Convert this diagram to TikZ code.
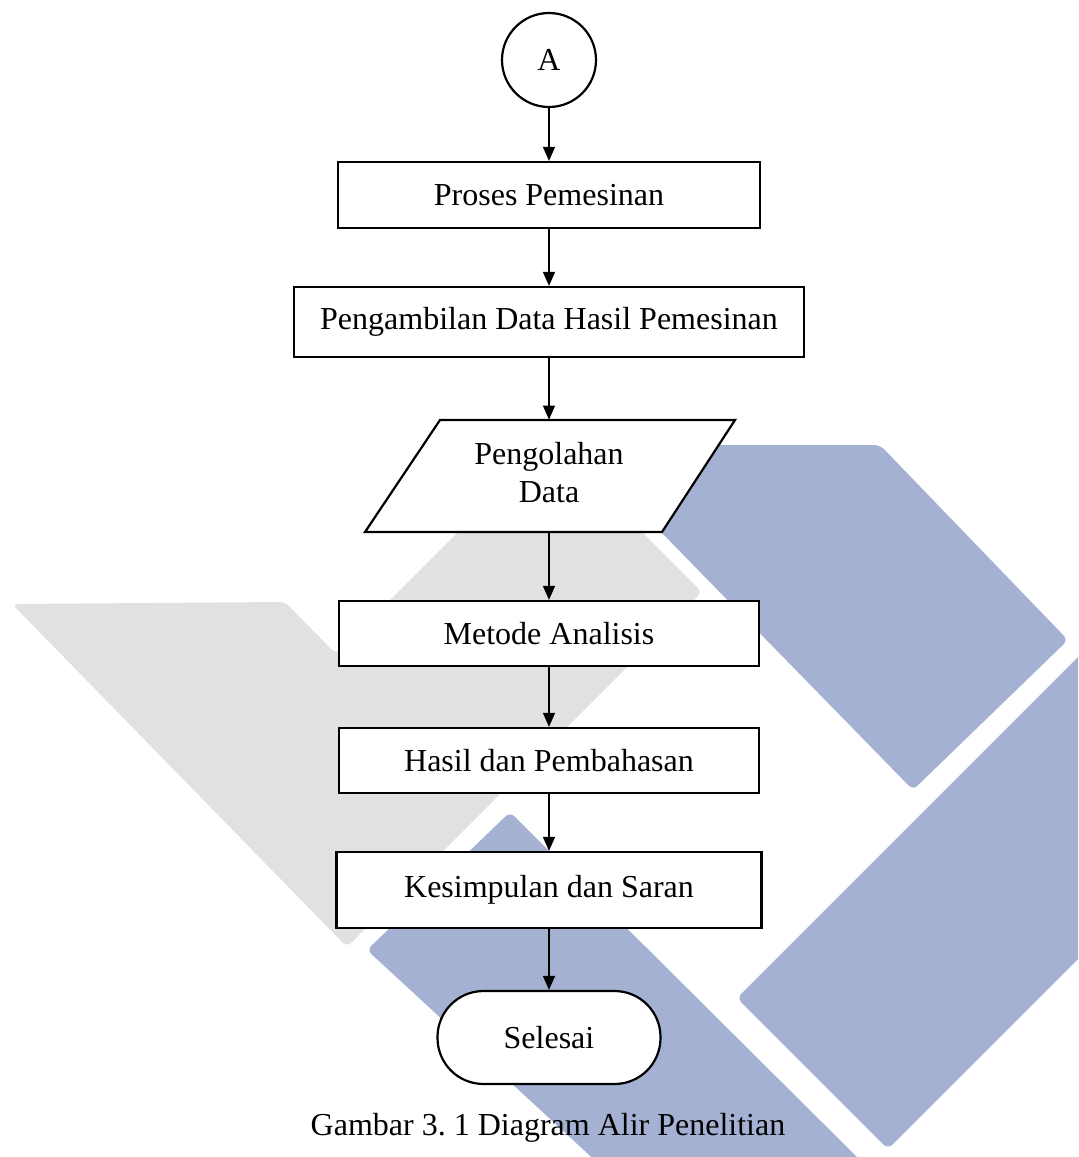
\documentclass[tikz,border=0pt]{standalone}
\usepackage{fontspec}
\setmainfont{Liberation Serif}
\usetikzlibrary{
    shapes.geometric,
    arrows.meta
}
\definecolor{logoblue}{RGB}{164,177,211}
\definecolor{logogray}{RGB}{225,225,225}
\frenchspacing

\begin{document}
\begin{tikzpicture}[x=0.5pt, y=-0.5pt,
    font=\fontsize{16}{19}\selectfont,
    prosesbox/.style={draw, rectangle, fill=white, line width=1.1pt, inner sep=0pt},
    iotext/.style={rectangle, inner sep=0pt, align=center, minimum width=185pt, minimum height=56pt},
    flow/.style={-{Triangle[length=7pt, width=6pt]}, line width=0.7pt}]
    \useasboundingbox (0,0) rectangle (1078,1157);
    \begin{scope}
        \clip (0,0) rectangle (1078,1157);
        \fill[logogray, rounded corners=3pt] (12,604) -- (285,602) -- (336,654) -- (550,440)
            -- (702,592) -- (347,947) -- cycle;
        \fill[logoblue, rounded corners=3pt] (576,445) -- (880,445) -- (1068,640) -- (913,790) -- cycle;
        \fill[logoblue, rounded corners=3pt] (367,950) -- (510,812) -- (865,1165) -- (600,1165) -- cycle;
        \fill[logoblue, rounded corners=3pt] (737,998) -- (1088,647) -- (1088,949) -- (888,1149) -- cycle;
    \end{scope}

    \node[draw, circle, fill=white, line width=1.1pt, minimum size=47pt, inner sep=0pt] (a) at (549,60) {A};
    \node[prosesbox, minimum width=211pt, minimum height=33pt] (proses) at (549,195) {Proses Pemesinan};
    \node[prosesbox, minimum width=255pt, minimum height=35pt] (ambil) at (549,322) {Pengambilan Data Hasil Pemesinan};
    \draw[fill=white, line width=1.1pt] (440,420) -- (735,420) -- (662,532) -- (365,532) -- cycle;
    \node[iotext] (olah) at (549,476) {\raisebox{2pt}{\begin{tabular}{@{}c@{}}Pengolahan\\Data\end{tabular}}};
    \node[prosesbox, minimum width=210pt, minimum height=32.5pt] (metode) at (549,633.5) {Metode Analisis};
    \node[prosesbox, minimum width=210pt, minimum height=32.5pt] (hasil) at (549,760.5) {Hasil dan Pembahasan};
    \node[prosesbox, minimum width=212.5pt, minimum height=38pt] (simpul) at (549,890) {Kesimpulan dan Saran};
    \node[prosesbox, rounded corners=23pt, minimum width=111.5pt, minimum height=46.5pt] (selesai) at (549,1037.5) {Selesai};
    \node (judul) at (548,1128) {Gambar 3. 1 Diagram Alir Penelitian};

    \draw[flow] (a) -- (proses);
    \draw[flow] (proses) -- (ambil);
    \draw[flow] (ambil) -- (olah);
    \draw[flow] (olah) -- (metode);
    \draw[flow] (metode) -- (hasil);
    \draw[flow] (hasil) -- (simpul);
    \draw[flow] (simpul) -- (selesai);
\end{tikzpicture}
\end{document}
